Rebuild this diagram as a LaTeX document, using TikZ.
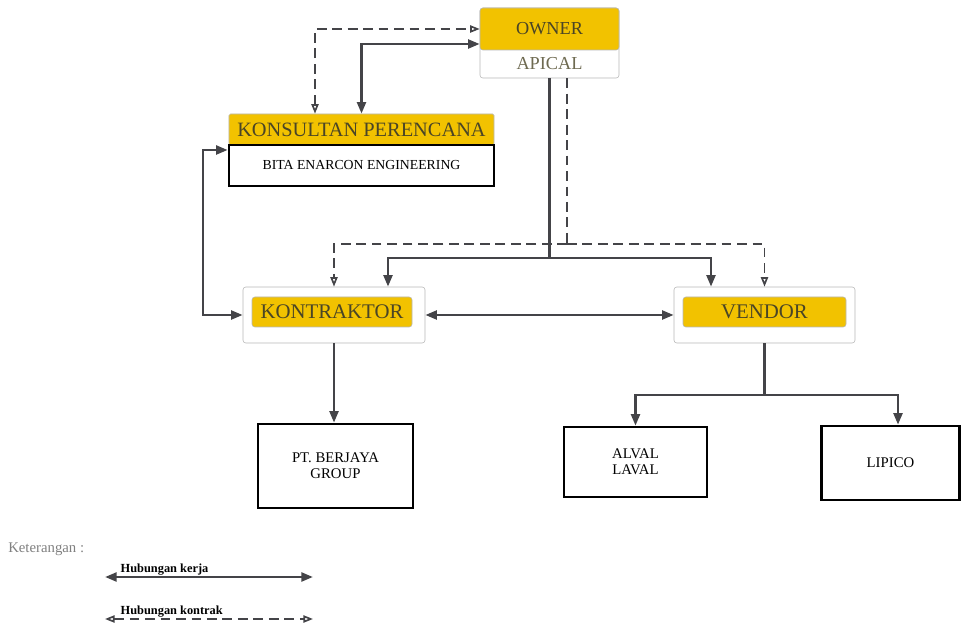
\documentclass[tikz,border=0pt]{standalone}
\usepackage{fontspec}
\setmainfont{Liberation Serif}
\usetikzlibrary{arrows.meta}

\definecolor{gold}{HTML}{F2C200}
\definecolor{linegray}{HTML}{444448}
\definecolor{framegray}{HTML}{B8B8B8}
\definecolor{olivetext}{HTML}{4A4526}

\begin{document}
\begin{tikzpicture}[x=0.25mm,y=-0.25mm,
    goldbox/.style={fill=gold,draw=framegray,rounded corners=2pt,text=olivetext,inner sep=0pt},
    plainbox/.style={draw=framegray,rounded corners=2pt,fill=white,inner sep=0pt},
    firmbox/.style={draw=black,line width=1.8pt,fill=white,align=center,inner sep=0pt,font=\fontsize{10.5}{11.5}\selectfont},
    work/.style={draw=linegray,line width=1.9pt,{Triangle[length=2.9mm,width=2.2mm]}-{Triangle[length=2.9mm,width=2.2mm]}},
    workend/.style={draw=linegray,line width=1.9pt,-{Triangle[length=2.9mm,width=2.2mm]}},
    workline/.style={draw=linegray,line width=1.9pt},
    contract/.style={draw=linegray,line width=1.2pt,dash pattern=on 7pt off 4pt,{Triangle[open,length=2.4mm,width=1.8mm]}-{Triangle[open,length=2.4mm,width=1.8mm]}},
    contractend/.style={draw=linegray,line width=1.2pt,dash pattern=on 7pt off 4pt,-{Triangle[open,length=2.4mm,width=1.8mm]}},
    contractline/.style={draw=linegray,line width=1.2pt,dash pattern=on 7pt off 4pt}]
    \useasboundingbox (0,0) rectangle (961,625);
    % owner
    \node[plainbox,minimum width=34.75mm,minimum height=17.5mm] (ownerbox) at (549.5,43) {};
    \node[goldbox,minimum width=34.75mm,minimum height=10.5mm,font=\fontsize{13}{15}\selectfont] (owner) at (549.5,29) {OWNER};
    \node[text=olivetext!80,font=\fontsize{13}{15}\selectfont,minimum width=34.75mm,minimum height=7mm,inner sep=0pt] (apical) at (549.5,64) {APICAL};
    % konsultan
    \node[goldbox,rounded corners=1pt,minimum width=66.25mm,minimum height=7.75mm,font=\fontsize{14.5}{16}\selectfont] (konsultan) at (361.5,129.5) {KONSULTAN PERENCANA};
    \node[firmbox,minimum width=66.25mm,minimum height=10.25mm,font=\fontsize{9.8}{11}\selectfont] (bita) at (361.5,165.5) {BITA ENARCON ENGINEERING};
    % kontraktor / vendor
    \node[plainbox,minimum width=45.5mm,minimum height=14mm] (kontraktorbox) at (334,315) {};
    \node[goldbox,minimum width=40mm,minimum height=7.5mm,font=\fontsize{14.8}{16}\selectfont] (kontraktor) at (332,312) {KONTRAKTOR};
    \node[plainbox,minimum width=45.25mm,minimum height=14mm] (vendorbox) at (764.5,315) {};
    \node[goldbox,minimum width=40.75mm,minimum height=7.5mm,font=\fontsize{14.8}{16}\selectfont] (vendor) at (764.5,312) {VENDOR};
    % firms
    \node[firmbox,minimum width=38.75mm,minimum height=21mm] (berjaya) at (335.5,466) {PT. BERJAYA\\GROUP};
    \node[firmbox,minimum width=35.75mm,minimum height=17.5mm] (alval) at (635.5,462) {ALVAL\\LAVAL};
    \node[firmbox,minimum width=34.5mm,minimum height=18.5mm] (lipico) at (890.5,463) {LIPICO};
    \coordinate (worksplit) at (549.5,258);
    \coordinate (contractsplit) at (567,244);
    \coordinate (vendorsplit) at (764.5,395);
    % owner <-> konsultan
    \draw[contract] (konsultan.north -| 315,0) |- (owner.west);
    \draw[work] (konsultan.north) |- (owner.west |- 0,44);
    % konsultan <-> kontraktor
    \draw[work] (bita.west |- 0,150) -| (203,0 |- kontraktorbox.west) -- (kontraktorbox.west);
    % owner -> kontraktor, vendor
    \draw[workline] (apical.south) -- (worksplit);
    \draw[workend] (worksplit) -| (kontraktorbox.north -| 388,0);
    \draw[workend] (worksplit) -| (vendorbox.north -| 711,0);
    \draw[contractline] (apical.south -| contractsplit) -- (contractsplit);
    \draw[contractend] (contractsplit) -| (kontraktorbox.north);
    \draw[contractend] (contractsplit) -| (vendorbox.north);
    \draw[work] (kontraktorbox.east) -- (vendorbox.west);
    % below
    \draw[workend] (kontraktorbox.south) -- (kontraktorbox.south |- berjaya.north);
    \draw[workline] (vendorbox.south) -- (vendorsplit);
    \draw[workend] (vendorsplit) -| (alval.north);
    \draw[workend] (vendorsplit) -| (lipico.north -| 898,0);
    % legend
    \node[anchor=west,text=gray,font=\fontsize{10.5}{12}\selectfont,inner sep=0pt] (keterangan) at (8,549) {Keterangan :};
    \coordinate (kerjaL) at (105,577);
    \coordinate (kerjaR) at (313,577);
    \coordinate (kontrakL) at (105,619);
    \coordinate (kontrakR) at (313,619);
    \draw[work] (kerjaL) -- (kerjaR);
    \draw[contract] (kontrakL) -- (kontrakR);
    \node[anchor=south west,font=\bfseries\fontsize{8.8}{10}\selectfont,inner sep=1pt] (kerjalabel) at ([xshift=3.5mm]kerjaL) {Hubungan kerja};
    \node[anchor=south west,font=\bfseries\fontsize{8.8}{10}\selectfont,inner sep=1pt] (kontraklabel) at ([xshift=3.5mm]kontrakL) {Hubungan kontrak};
\end{tikzpicture}
\end{document}
